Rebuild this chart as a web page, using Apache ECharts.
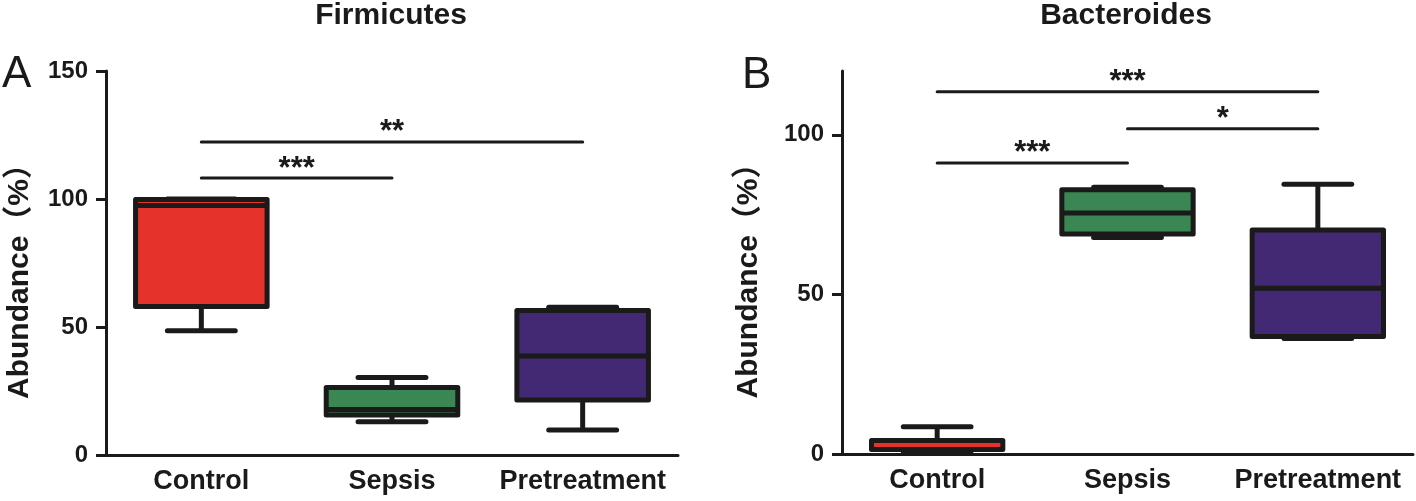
<!DOCTYPE html>
<html>
<head>
<meta charset="utf-8">
<script src="https://cdn.jsdelivr.net/npm/echarts@6/dist/echarts.min.js"></script>
<style>
  html, body { margin: 0; padding: 0; background: #fff; }
  #chart { width: 1416px; height: 501px; }
</style>
</head>
<body>
<div id="chart"></div>
<script>
const categories = ['Control', 'Sepsis', 'Pretreatment']
const boxColors = ['#e5322b', '#3a8753', '#432873']

// Firmicutes, values in %
const firmMin = [48.5, 13.0, 9.8]
const firmQ1 = [58.0, 15.6, 21.5]
const firmMedian = [97.5, 17.8, 38.7]
const firmQ3 = [99.8, 26.4, 56.4]
const firmMax = [100, 30.3, 57.7]

// Bacteroides, values in %
const bactMin = [0.8, 67.8, 36.2]
const bactQ1 = [1.4, 68.9, 36.8]
const bactMedian = [1.4, 75.5, 51.9]
const bactQ3 = [4.2, 82.8, 70.2]
const bactMax = [8.5, 83.6, 84.5]

// significance bars: from category, to category, height, stars
const firmSigFrom = [0, 0]
const firmSigTo = [1, 2]
const firmSigY = [108.2, 122.3]
const firmSigLabel = ['***', '**']

const bactSigFrom = [0, 1, 0]
const bactSigTo = [1, 2, 2]
const bactSigY = [91.2, 101.9, 113.5]
const bactSigLabel = ['***', '*', '***']

const firmTicks = [0, 50, 100, 150]
const bactTicks = [0, 50, 100]

const FONT = '"Liberation Sans", Arial, "Noto Sans CJK SC", sans-serif'
const INK = '#1a1a1a'

const chart = echarts.init(document.getElementById('chart'))

const boxData = (mn, q1, md, q3, mx) => categories.map((c, i) => [i, mn[i], q1[i], md[i], q3[i], mx[i]])
const sigData = (from, to, y) => from.map((f, i) => [f, to[i], y[i]])

const renderBox = (params, api) => {
  const c = api.value(0)
  const lo = api.coord([c, api.value(1)])
  const q1 = api.coord([c, api.value(2)])
  const md = api.coord([c, api.value(3)])
  const q3 = api.coord([c, api.value(4)])
  const hi = api.coord([c, api.value(5)])
  const band = api.size([1, 0])[0]
  const half = band * 0.345
  const cap = band * 0.178
  const x = lo[0]
  const line = { stroke: INK, lineWidth: 5, lineCap: 'butt' }
  return {
    type: 'group',
    children: [
      { type: 'line', shape: { x1: x, y1: hi[1], x2: x, y2: q3[1] }, style: line },
      { type: 'line', shape: { x1: x, y1: q1[1], x2: x, y2: lo[1] }, style: line },
      { type: 'line', shape: { x1: x - cap, y1: hi[1], x2: x + cap, y2: hi[1] }, style: { ...line, lineCap: 'round' } },
      { type: 'line', shape: { x1: x - cap, y1: lo[1], x2: x + cap, y2: lo[1] }, style: { ...line, lineCap: 'round' } },
      {
        type: 'rect',
        shape: { x: x - half, y: q3[1], width: half * 2, height: q1[1] - q3[1] },
        style: { fill: boxColors[c], stroke: INK, lineWidth: 5, lineJoin: 'round' }
      },
      { type: 'line', shape: { x1: x - half, y1: md[1], x2: x + half, y2: md[1] }, style: line }
    ]
  }
}

const makeSigRender = (labels) => (params, api) => {
  const y = api.value(2)
  const a = api.coord([api.value(0), y])
  const b = api.coord([api.value(1), y])
  return {
    type: 'group',
    children: [
      { type: 'line', shape: { x1: a[0], y1: a[1], x2: b[0], y2: b[1] }, style: { stroke: INK, lineWidth: 3, lineCap: 'round' } },
      {
        type: 'text',
        x: (a[0] + b[0]) / 2,
        y: a[1] - 9,
        style: { text: labels[params.dataIndex], fill: INK, font: 'bold 31px ' + FONT, align: 'center', verticalAlign: 'middle' }
      }
    ]
  }
}

const xAxisBase = {
  type: 'category',
  data: categories,
  axisLine: { lineStyle: { color: INK, width: 3 } },
  axisTick: { alignWithLabel: true, length: 10, lineStyle: { color: INK, width: 3 } },
  axisLabel: { color: INK, fontFamily: FONT, fontWeight: 'bold', fontSize: 27, margin: 13, interval: 0 }
}

const yAxisBase = {
  type: 'value',
  min: 0,
  interval: 50,
  name: 'Abundance（%）',
  nameLocation: 'middle',
  nameTextStyle: { color: INK, fontFamily: FONT, fontWeight: 'bold', fontSize: 30, padding: [0, 22, 0, 0] },
  splitLine: { show: false },
  axisLine: { show: true, lineStyle: { color: INK, width: 3 } },
  axisTick: { show: true, length: 10, lineStyle: { color: INK, width: 3 } },
  axisLabel: { color: INK, fontFamily: FONT, fontWeight: 'bold', fontSize: 24, margin: 18 }
}

chart.setOption({
  animation: false,
  backgroundColor: '#fff',
  title: [
    { text: 'Firmicutes', left: 391, top: 1, textAlign: 'center', padding: 0, textStyle: { color: INK, fontFamily: FONT, fontWeight: 'bold', fontSize: 30 } },
    { text: 'Bacteroides', left: 1126, top: 1, textAlign: 'center', padding: 0, textStyle: { color: INK, fontFamily: FONT, fontWeight: 'bold', fontSize: 30 } },
    { text: 'A', left: 2, top: 53, padding: 0, textStyle: { color: INK, fontFamily: FONT, fontWeight: 'normal', fontSize: 44 } },
    { text: 'B', left: 742, top: 54, padding: 0, textStyle: { color: INK, fontFamily: FONT, fontWeight: 'normal', fontSize: 44 } }
  ],
  grid: [
    { left: 106, width: 572, top: 71, height: 384, outerBoundsMode: 'none' },
    { left: 842, width: 571, top: 71, height: 383, outerBoundsMode: 'none' }
  ],
  xAxis: [
    { ...xAxisBase, gridIndex: 0 },
    { ...xAxisBase, gridIndex: 1 }
  ],
  yAxis: [
    {
      ...yAxisBase, gridIndex: 0, max: 150, nameGap: 71,
      axisLabel: { ...yAxisBase.axisLabel, customValues: firmTicks },
      axisTick: { ...yAxisBase.axisTick, customValues: firmTicks }
    },
    {
      ...yAxisBase, gridIndex: 1, max: 120, nameGap: 78,
      axisLabel: { ...yAxisBase.axisLabel, customValues: bactTicks },
      axisTick: { ...yAxisBase.axisTick, customValues: bactTicks }
    }
  ],
  series: [
    {
      type: 'custom', xAxisIndex: 0, yAxisIndex: 0, silent: true,
      encode: { x: 0, y: [1, 2, 3, 4, 5] },
      data: boxData(firmMin, firmQ1, firmMedian, firmQ3, firmMax),
      renderItem: renderBox
    },
    {
      type: 'custom', xAxisIndex: 1, yAxisIndex: 1, silent: true,
      encode: { x: 0, y: [1, 2, 3, 4, 5] },
      data: boxData(bactMin, bactQ1, bactMedian, bactQ3, bactMax),
      renderItem: renderBox
    },
    {
      type: 'custom', xAxisIndex: 0, yAxisIndex: 0, silent: true,
      encode: { x: [0, 1], y: 2 },
      data: sigData(firmSigFrom, firmSigTo, firmSigY),
      renderItem: makeSigRender(firmSigLabel)
    },
    {
      type: 'custom', xAxisIndex: 1, yAxisIndex: 1, silent: true,
      encode: { x: [0, 1], y: 2 },
      data: sigData(bactSigFrom, bactSigTo, bactSigY),
      renderItem: makeSigRender(bactSigLabel)
    }
  ]
})
</script>
</body>
</html>
